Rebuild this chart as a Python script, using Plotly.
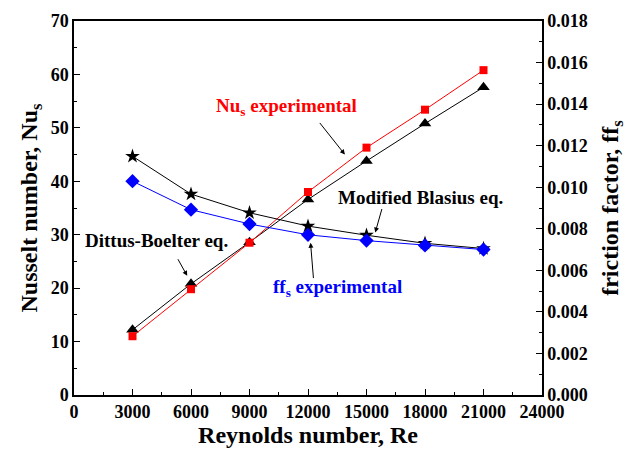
import plotly.graph_objects as go

re = [3000, 6000, 9000, 12000, 15000, 18000, 21000]
nu_exp = [11.0, 19.8, 28.5, 38.0, 46.3, 53.4, 60.8]
nu_db = [12.2, 20.8, 28.6, 36.6, 43.8, 50.8, 57.6]
ff_exp = [0.01029, 0.00892, 0.00823, 0.00771, 0.00743, 0.00720, 0.00700]
ff_bl = [0.01149, 0.00967, 0.00877, 0.00813, 0.00769, 0.00730, 0.00705]

FONT = "Liberation Serif"
fig = go.Figure()
fig.add_trace(go.Scatter(x=re, y=ff_bl, yaxis="y2", mode="lines+markers",
                         line=dict(color="black", width=1),
                         marker=dict(symbol="star", size=11, color="black")))
fig.add_trace(go.Scatter(x=re, y=ff_exp, yaxis="y2", mode="lines+markers",
                         line=dict(color="blue", width=1),
                         marker=dict(symbol="diamond", size=11, color="blue")))
fig.add_trace(go.Scatter(x=re, y=nu_db, mode="lines+markers",
                         line=dict(color="black", width=1),
                         marker=dict(symbol="triangle-up", size=11, color="black")))
fig.add_trace(go.Scatter(x=re, y=nu_exp, mode="lines+markers",
                         line=dict(color="red", width=1),
                         marker=dict(symbol="square", size=8, color="red")))

tickfont = dict(family=FONT, size=18, color="black", weight="bold")
titlefont = dict(family=FONT, size=24, color="black", weight="bold")

fig.update_layout(
    width=628, height=450, showlegend=False,
    plot_bgcolor="white", paper_bgcolor="white",
    margin=dict(l=74, r=86, t=21, b=55),
    xaxis=dict(range=[0, 24000], tickvals=[0, 3000, 6000, 9000, 12000, 15000, 18000, 21000, 24000],
               tickformat="d", automargin=False,
               ticks="inside", ticklen=6, tickwidth=1, tickcolor="black",
               minor=dict(ticks="inside", ticklen=3, dtick=1500, tickcolor="black"),
               showline=True, linecolor="black", linewidth=1.5, mirror=True,
               showgrid=False, zeroline=False, tickfont=tickfont,
               title=dict(text="Reynolds number, Re", font=titlefont, standoff=2)),
    yaxis=dict(range=[0, 70], dtick=10, ticks="inside", ticklen=6, tickcolor="black",
               minor=dict(ticks="inside", ticklen=3, dtick=5, tickcolor="black"),
               showline=True, linecolor="black", linewidth=1.5, automargin=False,
               showgrid=False, zeroline=False, tickfont=tickfont,
               title=dict(text="Nusselt number, Nu<sub>s</sub>", font=titlefont, standoff=6)),
    yaxis2=dict(range=[0, 0.018], dtick=0.002, tickformat=".3f", overlaying="y", side="right",
                ticks="inside", ticklen=6, tickcolor="black",
                minor=dict(ticks="inside", ticklen=3, dtick=0.001, tickcolor="black"),
                showline=True, linecolor="black", linewidth=1.5, automargin=False,
                showgrid=False, zeroline=False, tickfont=tickfont,
                title=dict(text="friction factor, ff<sub>s</sub>", font=titlefont, standoff=14)),
)

def arrow(tx, ty, hx, hy):
    fig.add_annotation(x=hx, y=hy, ax=tx, ay=ty, xref="x", yref="y", axref="x", ayref="y",
                       text="", showarrow=True, arrowhead=2, arrowsize=1, arrowwidth=1,
                       arrowcolor="black")

def label(x, y, text, color):
    fig.add_annotation(x=x, y=y, xref="x", yref="y", text=text, showarrow=False,
                       font=dict(family=FONT, size=19, color=color, weight="bold"))

label(10886, 53.9, "Nu<sub>s</sub> experimental", "red")
arrow(12544, 51.2, 13892, 45.0)
label(4250, 28.9, "Dittus-Boelter eq.", "black")
arrow(5287, 25.7, 5806, 22.3)
label(17780, 37.0, "Modified Blasius eq.", "black")
arrow(15810, 35.1, 15447, 30.4)
label(13529, 20.1, "ff<sub>s</sub> experimental", "blue")
arrow(12285, 21.6, 12130, 28.5)

fig.write_html("out.html")
